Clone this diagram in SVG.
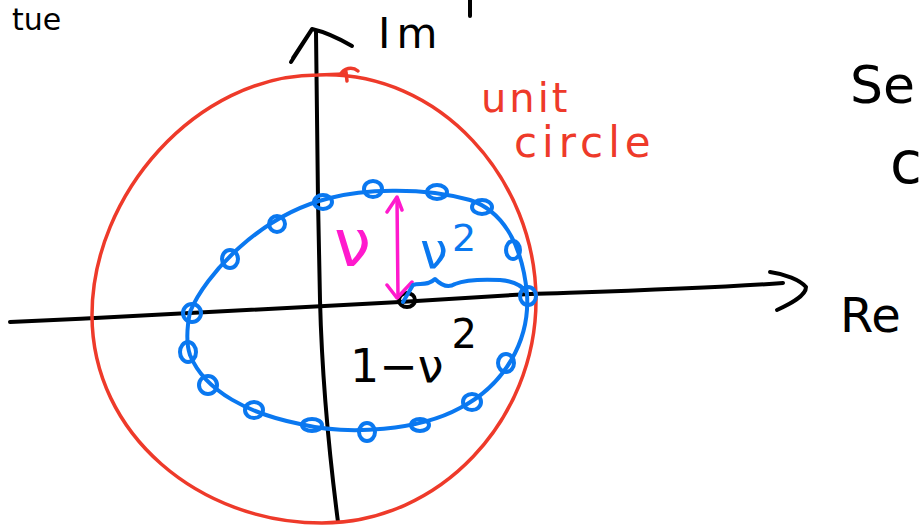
<svg xmlns="http://www.w3.org/2000/svg" width="921" height="527" viewBox="0 0 921 527">
<style>
.ink{fill:none;stroke-linecap:round;stroke-linejoin:round}
.k{stroke:#000;stroke-width:4}
.r{stroke:#EE3A2A;stroke-width:3.5}
.b{stroke:#0A78F0;stroke-width:4}
.m{stroke:#FF1ACD;stroke-width:3.5}
.pt{fill:none;stroke:#0A78F0;stroke-width:4}
.t{font-family:"DejaVu Sans","Liberation Sans",sans-serif}
</style>
<rect width="921" height="527" fill="#fff"/>
<g id="axes">
  <path class="ink k" d="M316,32 L318,200 L320,300 C322,380 330,460 338,522"/>
  <path class="ink k" d="M311,31 L291,62 M293,58 L312,29 C325,32 340,39 352,46"/>
  <path class="ink k" d="M10,322 C150,316 300,308 400,302 L530,294 C620,291 700,289 783,283"/>
  <path class="ink k" d="M770,272 C785,274 800,280 806,287 C806,296 790,304 777,310"/>
  <line class="ink k" x1="470" y1="0" x2="470" y2="16"/>
</g>
<g id="unit-circle">
  <path class="ink r" d="M318,75 C440,70 536,180 536,300 C536,420 440,523 322,523 C200,523 92,435 92,315 C92,195 196,75 318,75 L344,74"/>
  <path class="ink r" d="M340,75 C344,68 352,66 358,71 M346,72 L347,81"/>
</g>
<g id="ellipse">
  <path class="ink b" d="M190,312 C205,275 260,215 330,198 C360,190 420,186 470,200 C500,210 522,240 527,294 C530,340 505,385 460,408 C420,430 350,436 300,424 C250,414 205,392 190,355 C185,340 188,322 190,312 Z"/>
  <ellipse class="pt" cx="192" cy="313" rx="9" ry="9"/>
  <ellipse class="pt" cx="188" cy="352" rx="8" ry="10"/>
  <ellipse class="pt" cx="208" cy="385" rx="9" ry="9"/>
  <ellipse class="pt" cx="254" cy="410" rx="9" ry="8"/>
  <ellipse class="pt" cx="312" cy="425" rx="10" ry="6"/>
  <ellipse class="pt" cx="367" cy="432" rx="8" ry="9"/>
  <ellipse class="pt" cx="420" cy="425" rx="9" ry="6"/>
  <ellipse class="pt" cx="472" cy="402" rx="9" ry="8"/>
  <ellipse class="pt" cx="506" cy="363" rx="8" ry="9"/>
  <ellipse class="pt" cx="528" cy="296" rx="8" ry="9"/>
  <ellipse class="pt" cx="230" cy="259" rx="8" ry="9"/>
  <ellipse class="pt" cx="277" cy="224" rx="8" ry="8"/>
  <ellipse class="pt" cx="323" cy="202" rx="9" ry="7"/>
  <ellipse class="pt" cx="373" cy="189" rx="9" ry="8"/>
  <ellipse class="pt" cx="437" cy="192" rx="10" ry="7"/>
  <ellipse class="pt" cx="482" cy="207" rx="10" ry="7"/>
  <ellipse class="pt" cx="513" cy="250" rx="7" ry="9"/>
</g>
<g id="origin">
  <ellipse cx="407" cy="300" rx="8" ry="7" fill="none" stroke="#000" stroke-width="4"/>
</g>
<g id="nu-arrow">
  <path class="ink m" d="M397,198 L398,297"/>
  <path class="ink m" d="M387,212 L397,197 L402,210 M387,285 L397,298 L412,282"/>
</g>
<g id="brace">
  <path class="ink b" d="M403,302 L413,285 C420,283 428,286 435,279 C440,284 447,289 455,284 C465,280 480,279 500,280 C512,281 522,285 527,293"/>
</g>
<g id="labels">
  <text class="t" x="378" y="48" font-size="42" letter-spacing="6" fill="#000">Im</text>
  <text class="t" x="840" y="332" font-size="48" fill="#000">Re</text>
  <text class="t" x="481" y="112" font-size="40" letter-spacing="3" fill="#EE3A2A">unit</text>
  <text class="t" x="514" y="157" font-size="42" letter-spacing="5" fill="#EE3A2A">circle</text>
  <text class="t" x="334" y="266" font-size="66" fill="#FF1ACD">ν</text>
  <text class="t" x="420" y="268" font-size="50" fill="#0A78F0">ν<tspan font-size="38" dy="-17" dx="4">2</tspan></text>
  <text class="t" x="350" y="382" font-size="46" fill="#000">1−ν<tspan font-size="40" dy="-34" dx="8">2</tspan></text>
  <text class="t" x="850" y="103" font-size="52" fill="#000">Se</text>
  <text class="t" x="890" y="183" font-size="58" fill="#000">c</text>
  <text class="t" x="12" y="30" font-size="30" fill="#000">tue</text>
</g>
</svg>
